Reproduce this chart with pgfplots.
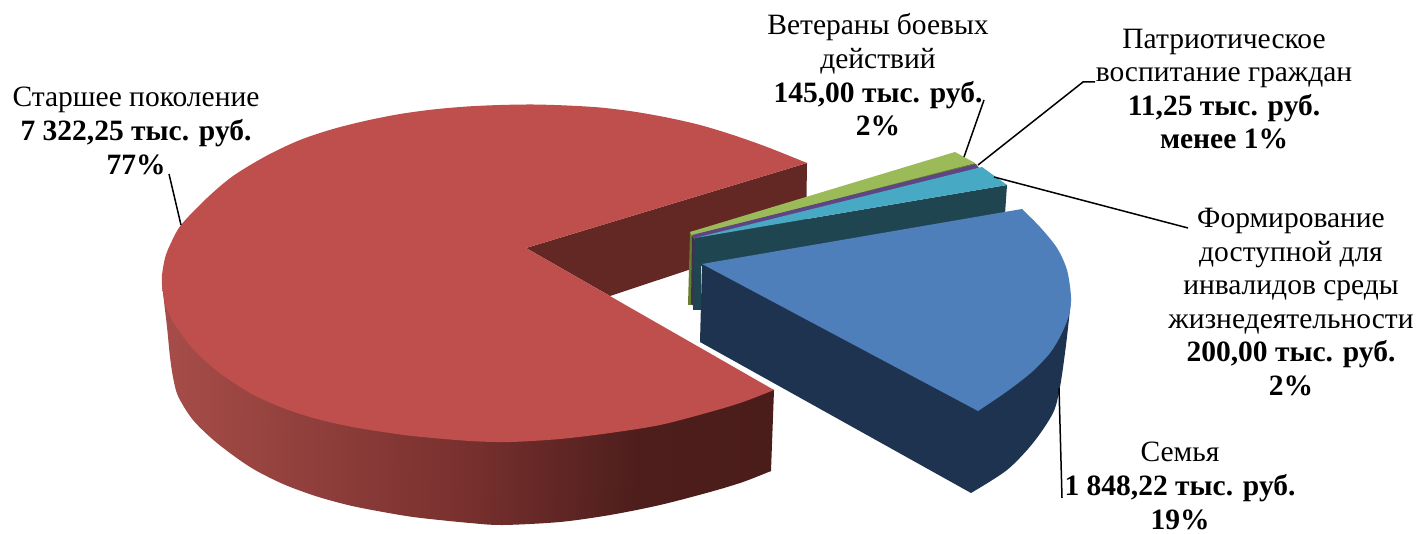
\documentclass[border=0pt]{standalone}
\usepackage{fontspec}
\setmainfont{Liberation Serif}
\usepackage{pgfplots}
\pgfplotsset{compat=1.18}
\definecolor{redtop}{HTML}{BE4F4C}
\definecolor{redwall}{HTML}{632724}
\definecolor{redl}{HTML}{A74D49}
\definecolor{redm}{HTML}{78302E}
\definecolor{redd}{HTML}{4D1E1C}
\definecolor{redr}{HTML}{4A1C1A}
\definecolor{bluetop}{HTML}{4F7FBB}
\definecolor{bluewall}{HTML}{1E334F}
\definecolor{tealtop}{HTML}{47A9C4}
\definecolor{tealwall}{HTML}{1F4650}
\definecolor{greentop}{HTML}{9BBB59}
\definecolor{greenwall}{HTML}{66802F}
\definecolor{purpletop}{HTML}{5F4585}
\definecolor{purplewall}{HTML}{3F3151}
\pgfdeclarehorizontalshading{redside}{100bp}{color(0bp)=(redl); color(25bp)=(redl); color(50bp)=(redm); color(64bp)=(redd); color(75bp)=(redr); color(100bp)=(redr)}
\begin{document}
\begin{tikzpicture}
\begin{axis}[
  width=1416pt, height=534pt, scale only axis,
  xmin=0, xmax=1416, ymin=0, ymax=534, y dir=reverse,
  hide axis, clip=false, no markers,
  every axis plot/.append style={draw=none, forget plot},
]
\path (axis cs:0,0) rectangle (axis cs:1416,534);
% red slice, outer side: curved bottom plus the part above its chord
\addplot[smooth, shade, shading=redside] coordinates {
 (162,285) (167,327) (170,357) (173,377) (178,396) (193,420) (217,443) (250,467) (283,484)
 (317,496.5) (350,505.5) (383,512) (417,517.5) (470,523) (503,525) (560,522) (610,515) (660,505)
 (710,492) (743,482) (771,471)
};
\addplot[shade, shading=redside] coordinates {(162,285) (200,400) (500,500) (771,471) (774,390)};
% red slice, inner wall
\addplot[fill=redwall] coordinates {(526,248) (807,163) (806,231) (610,296)};
% red slice, top: two arcs and the polygon between them
\addplot[smooth, fill=redtop] coordinates {
 (807,163) (767,147) (733,135) (700,125) (667,117.5) (633,111.5) (600,107.5) (567,105.5) (533,104.5)
 (500,105) (467,106.5) (433,109.5) (400,114) (367,120.5) (333,129) (300,140) (267,155.5) (233,176)
 (207,198) (181,225) (170,245) (165,258) (162,275) (162,285)
};
\addplot[smooth, fill=redtop] coordinates {
 (162,285) (165,303) (170,316) (177,328) (193,349) (217,371) (250,393) (283,408) (317,419) (350,426.5)
 (383,432) (417,436.5) (470,441) (510,442) (560,439) (610,433) (660,425) (710,412) (743,402)
 (774,390)
};
\addplot[fill=redtop] coordinates {(526,248) (807,163) (500,130) (190,240) (162,285) (195,345) (500,420) (774,390)};
% green slice
\addplot[fill=greenwall] coordinates {(690,232) (975,163) (975,171) (694,240) (693,305) (688,305)};
\addplot[fill=greentop] coordinates {(690,232) (955,152) (975,163) (692,236)};
% purple slice
\addplot[fill=purplewall] coordinates {(692,236) (695,240) (695,307) (691,304)};
\addplot[fill=purpletop] coordinates {(692,235) (976,164) (979,168) (695,239)};
% teal slice
\addplot[fill=tealwall] coordinates {(695,238) (1007,185) (1005,214) (701,266) (701,310) (693,310)};
\addplot[fill=tealtop] coordinates {(695,238) (982,167) (1007,185)};
% blue slice
\addplot[smooth, fill=bluewall] coordinates {
 (1071,300) (1066,345) (1060,387) (1053,413) (1033,443) (1007,470) (971,493)
};
\addplot[fill=bluewall] coordinates {(702,264) (1071,300) (1045,400) (1000,460) (971,493) (700,342)};
\addplot[smooth, fill=bluetop] coordinates {
 (1022,209) (1040,227) (1057,248) (1067,270) (1071,297) (1069,315) (1061,335) (1050,353)
 (1033,371) (1013,387) (996,399) (978,411)
};
\addplot[fill=bluetop] coordinates {(702,264) (1022,209) (1050,280) (1030,350) (978,411)};
% leader lines
\addplot[draw=black, line width=1.5pt] coordinates {(169,174) (181,225)};
\addplot[draw=black, line width=1.5pt] coordinates {(984,100) (964,157)};
\addplot[draw=black, line width=1.5pt] coordinates {(1095,82) (1083,82) (978,165)};
\addplot[draw=black, line width=1.5pt] coordinates {(994,177) (1188,228)};
\addplot[draw=black, line width=1.5pt] coordinates {(1059,388) (1062,498)};
% labels
\tikzset{lab/.style={align=center, inner sep=0pt, font=\fontsize{29.5}{33.6}\selectfont}}
\node[lab] at (axis cs:136,131) {Старшее поколение\\\textbf{7 322,25 тыс. руб.}\\\textbf{77\%}};
\node[lab] at (axis cs:878,75) {Ветераны боевых\\действий\\\textbf{145,00 тыс. руб.}\\\textbf{2\%}};
\node[lab] at (axis cs:1224,89) {Патриотическое\\воспитание граждан\\\textbf{11,25 тыс. руб.}\\\textbf{менее 1\%}};
\node[lab] at (axis cs:1291,302) {Формирование\\доступной для\\инвалидов среды\\жизнедеятельности\\\textbf{200,00 тыс. руб.}\\\textbf{2\%}};
\node[lab] at (axis cs:1180,486) {Семья\\\textbf{1 848,22 тыс. руб.}\\\textbf{19\%}};
\end{axis}
\end{tikzpicture}
\end{document}
